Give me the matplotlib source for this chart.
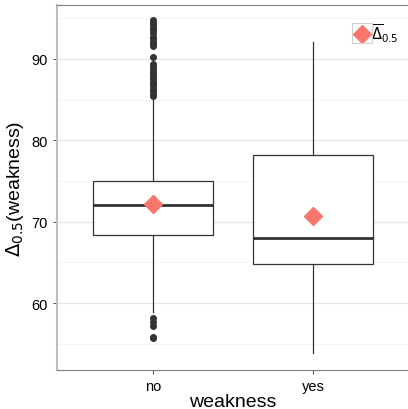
import numpy as np
import matplotlib.pyplot as plt
from matplotlib.patches import Rectangle

plt.rcParams['font.family'] = ['Liberation Sans', 'DejaVu Sans']

# box statistics
groups = ["no", "yes"]
q1 = [68.4, 64.8]
median = [72.0, 68.0]
q3 = [75.0, 78.2]
whisker_low = [58.9, 53.9]
whisker_high = [85.1, 92.1]
means = [72.2, 70.7]

outliers_no = [94.7, 94.4, 94.1, 93.8, 93.5, 93.2, 92.7, 92.4, 92.1, 91.8, 91.6,
               90.2, 89.4, 89.0, 88.7, 88.4, 88.1, 87.8, 87.5, 87.2, 86.9,
               86.6, 86.3, 86.0, 85.7, 85.4,
               58.2, 57.7, 57.2, 55.9, 55.7]
outliers_yes = []

stats = []
for i, g in enumerate(groups):
    stats.append(dict(
        label=g, q1=q1[i], med=median[i], q3=q3[i],
        whislo=whisker_low[i], whishi=whisker_high[i],
        fliers=[outliers_no, outliers_yes][i],
    ))

fig = plt.figure(figsize=(4.08, 4.10), dpi=100)
ax = fig.add_axes([57 / 408, 39 / 410, 352 / 408, 365 / 410])

# grid
for v in [55, 65, 75, 85, 95]:
    ax.axhline(v, color="#f2f2f2", lw=0.6, zorder=0)
for v in [60, 70, 80, 90]:
    ax.axhline(v, color="#e6e6e6", lw=0.9, zorder=0)

ax.bxp(stats, positions=[1, 2], widths=0.75, showcaps=False,
       patch_artist=True,
       boxprops=dict(facecolor="white", edgecolor="#333333", lw=0.9),
       whiskerprops=dict(color="#333333", lw=0.9),
       medianprops=dict(color="#333333", lw=2.0),
       flierprops=dict(marker="o", markerfacecolor="#333333",
                       markeredgecolor="#333333", markersize=4.0),
       zorder=2)

ax.plot([1, 2], means, linestyle="none", marker="D", markersize=9,
        color="#F8766D", zorder=4, label=r"$\overline{\Delta}_{0.5}$")

ax.set_xlim(0.4, 2.6)
ax.set_ylim(51.8, 96.6)
ax.set_yticks([60, 70, 80, 90])
ax.set_xticks([1, 2])
ax.set_xticklabels(groups)

ax.spines["right"].set_visible(False)
ax.spines["top"].set_color("#7f7f7f")
ax.spines["left"].set_color("#bdbdbd")
ax.spines["left"].set_linewidth(1.5)
ax.spines["bottom"].set_color("#7f7f7f")

ax.tick_params(axis="both", colors="#4d4d4d", labelcolor="black",
               labelsize=10.5, length=3, width=0.7)

ax.set_xlabel("weakness", fontsize=14, labelpad=0)
ax.set_ylabel(r"$\Delta_{0.5}$(weakness)", fontsize=14, labelpad=4)

leg = ax.legend(loc="upper right", fontsize=10.5, frameon=False,
                handletextpad=0.15, handlelength=1.0,
                bbox_to_anchor=(1.0 + 3 / 352, 0.99))

# grey border around the legend key
fig.patches.append(Rectangle((352 / 408, 1 - 44 / 410), 20 / 408, 20 / 410,
                             transform=fig.transFigure, fill=False,
                             edgecolor="#d0d0d0", lw=0.8))

plt.savefig("out.png", dpi=100)
